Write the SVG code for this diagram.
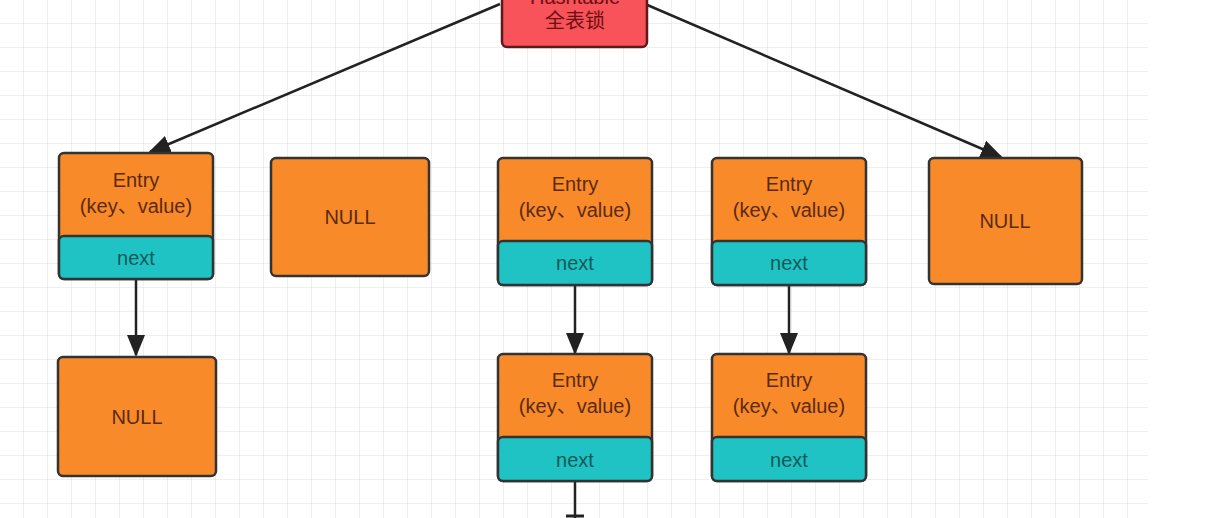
<svg xmlns="http://www.w3.org/2000/svg" width="1216" height="518" viewBox="0 0 1216 518">
<defs>
<pattern id="g" width="24" height="24" patternUnits="userSpaceOnUse"><path d="M24 0V24H0" fill="none" stroke="#dedede" stroke-width="1"/></pattern>
<marker id="b" markerWidth="22" markerHeight="22" refX="20" refY="11" orient="auto" markerUnits="userSpaceOnUse" viewBox="0 0 22 22"><path d="M0 2L22 11L0 20z" fill="#222"/></marker>
</defs>
<style>
.o{fill:#f98a2a;stroke:#333;stroke-width:2.5}
.t{fill:#1fc3c3;stroke:#333;stroke-width:2.5}
.r{fill:#f8525a;stroke:#5a1a1a;stroke-width:2.5}
text{font-family:"Liberation Sans","Noto Sans CJK SC",sans-serif;font-size:20px;fill:#5a2a10;text-anchor:middle}
.n{fill:#125a5a}
.c{stroke:#222;stroke-width:2.5;fill:none;marker-end:url(#b)}
</style>
<rect width="1216" height="518" fill="#fff"/>
<rect width="1148" height="518" fill="url(#g)"/>
<g id="connectors">
<path class="c" d="M500 4L150 152"/>
<path class="c" d="M645 4L1001 157"/>
<path class="c" d="M136 280V355"/>
<path class="c" d="M575 286V353"/>
<path class="c" d="M789 286V353"/>
<path d="M575 482V518" stroke="#222" stroke-width="2.5"/>
<path d="M566 516H584" stroke="#222" stroke-width="3"/>
</g>
<g id="hashtable"><rect class="r" x="502" y="-12" width="145" height="59" rx="5"/><text x="575" y="4" style="fill:#6a1010">Hashtable</text><text x="575" y="28" style="fill:#6a1010">全表锁</text></g>
<g id="e1"><rect class="o" x="59" y="153" width="154" height="126" rx="5"/><rect class="t" x="59" y="236" width="154" height="43" rx="5"/><text x="136" y="187">Entry</text><text x="136" y="213">(key、value)</text><text class="n" x="136" y="265">next</text></g>
<g id="null1"><rect class="o" x="271" y="158" width="158" height="118" rx="5"/><text x="350" y="224">NULL</text></g>
<g id="e2"><rect class="o" x="498" y="158" width="154" height="127" rx="5"/><rect class="t" x="498" y="241" width="154" height="44" rx="5"/><text x="575" y="191">Entry</text><text x="575" y="217">(key、value)</text><text class="n" x="575" y="270">next</text></g>
<g id="e3"><rect class="o" x="712" y="158" width="154" height="127" rx="5"/><rect class="t" x="712" y="241" width="154" height="44" rx="5"/><text x="789" y="191">Entry</text><text x="789" y="217">(key、value)</text><text class="n" x="789" y="270">next</text></g>
<g id="null2"><rect class="o" x="929" y="158" width="153" height="126" rx="5"/><text x="1005" y="228">NULL</text></g>
<g id="null3"><rect class="o" x="58" y="357" width="158" height="119" rx="5"/><text x="137" y="424">NULL</text></g>
<g id="e4"><rect class="o" x="498" y="354" width="154" height="127" rx="5"/><rect class="t" x="498" y="437" width="154" height="44" rx="5"/><text x="575" y="387">Entry</text><text x="575" y="413">(key、value)</text><text class="n" x="575" y="467">next</text></g>
<g id="e5"><rect class="o" x="712" y="354" width="154" height="127" rx="5"/><rect class="t" x="712" y="437" width="154" height="44" rx="5"/><text x="789" y="387">Entry</text><text x="789" y="413">(key、value)</text><text class="n" x="789" y="467">next</text></g>
</svg>
